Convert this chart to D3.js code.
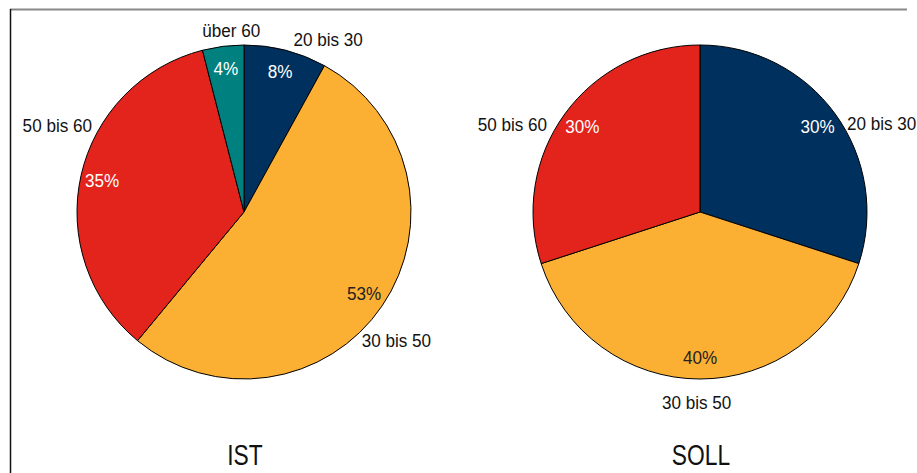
<!DOCTYPE html>
<html>
<head>
<meta charset="utf-8">
<script src="https://cdn.jsdelivr.net/npm/d3@7"></script>
<style>
  body { margin: 0; background: #fff; }
  svg { display: block; font-family: "Liberation Sans", Arial, sans-serif; }
</style>
</head>
<body>
<div id="chart"></div>
<script>
// data
const categories = ["20 bis 30", "30 bis 50", "50 bis 60", "über 60"];
const istValues = [8, 53, 35, 4];
const sollValues = [30, 40, 30, 0];
const chartTitles = ["IST", "SOLL"];

const colors = ["#00305e", "#fbb034", "#e3241c", "#00807f"];
const pctColors = ["#fff", "#222", "#fff", "#fff"];

const width = 917, height = 473;
const radius = 167;
const centers = [[244, 212], [700, 212]];

// label layout: [angle in degrees from top, distance from center]
const catLabelPolar = [
    [[26, 192], [130, 199], [295, 206], [356, 182]],
    [[64, 202], [181, 190], [295, 207], [0, 0]]
];
const pctRadius = 0.87;

const svg = d3.select("#chart")
    .append("svg")
    .attr("width", width)
    .attr("height", height);

// frame
svg.append("line")
    .attr("x1", 10).attr("x2", 907)
    .attr("y1", 9.5).attr("y2", 9.5)
    .attr("stroke", "#888")
    .attr("stroke-width", 2);
svg.append("line")
    .attr("x1", 10.5).attr("x2", 10.5)
    .attr("y1", 9).attr("y2", height)
    .attr("stroke", "#111")
    .attr("stroke-width", 1.5);

const pie = d3.pie().sort(null).value(d => d.value);
const arc = d3.arc().innerRadius(0).outerRadius(radius);

const polar = (deg, r) => {
    const a = deg * Math.PI / 180;
    return [r * Math.sin(a), -r * Math.cos(a)];
};

function addText(g, x, y, txt, size, sx, color) {
    g.append("text")
        .attr("transform", `translate(${x},${y}) scale(${sx},1)`)
        .attr("text-anchor", "middle")
        .attr("dy", "0.35em")
        .style("font-size", size + "px")
        .attr("fill", color)
        .text(txt);
}

[istValues, sollValues].forEach((vals, ci) => {
    const rows = categories.map((c, i) => ({ cat: c, value: vals[i], idx: i }))
        .filter(d => d.value > 0);
    const arcs = pie(rows);

    const g = svg.append("g")
        .attr("transform", `translate(${centers[ci][0]},${centers[ci][1]})`);

    g.selectAll("path")
        .data(arcs)
        .join("path")
        .attr("d", arc)
        .attr("fill", d => colors[d.data.idx])
        .attr("stroke", "#000")
        .attr("stroke-width", 1);

    arcs.forEach(d => {
        const mid = (d.startAngle + d.endAngle) / 2 * 180 / Math.PI;
        const [px, py] = polar(mid, radius * pctRadius);
        addText(g, px, py, d.data.value + "%", 19, 0.9, pctColors[d.data.idx]);

        const [deg, r] = catLabelPolar[ci][d.data.idx];
        const [lx, ly] = polar(deg, r);
        addText(g, lx, ly, d.data.cat, 19, 0.9, "#111");
    });

    addText(svg, centers[ci][0] + 1, 454, chartTitles[ci], 30, 0.76, "#111");
});
</script>
</body>
</html>
